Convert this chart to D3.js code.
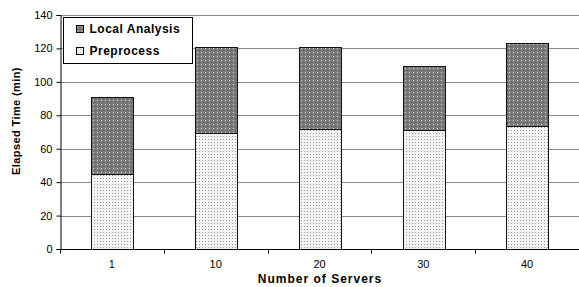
<!DOCTYPE html>
<html>
<head>
<meta charset="utf-8">
<script src="https://cdn.jsdelivr.net/npm/d3@7"></script>
<style>
  body { margin: 0; background: #fff; }
  text { font-family: "Liberation Sans", Arial, sans-serif; }
</style>
</head>
<body>
<div class="chart"></div>
<script>
const servers = ["1", "10", "20", "30", "40"];
const preprocess = [45, 69.5, 72, 71, 73.5];
const localAnalysis = [46, 51.5, 49, 38.5, 49.5];
const yTicks = [0, 20, 40, 60, 80, 100, 120, 140];
const legendLabels = ["Local Analysis", "Preprocess"];

const W = 579, H = 287;
const margin = {top: 15, right: 0, bottom: 38, left: 60};
const width = W - margin.left - margin.right;
const height = H - margin.top - margin.bottom;

const svg = d3.select(".chart").append("svg")
    .attr("width", W).attr("height", H);

// patterns
const defs = svg.append("defs");
const pDark = defs.append("pattern").attr("id", "pat-dark")
    .attr("patternUnits", "userSpaceOnUse").attr("width", 4).attr("height", 4);
pDark.append("rect").attr("width", 4).attr("height", 4).attr("fill", "#7a7a7a");
pDark.append("rect").attr("x", 1).attr("y", 1).attr("width", 1).attr("height", 1).attr("fill", "#d8d8d8");
pDark.append("rect").attr("x", 3).attr("y", 3).attr("width", 1).attr("height", 1).attr("fill", "#5a5a5a");

const pLight = defs.append("pattern").attr("id", "pat-light")
    .attr("patternUnits", "userSpaceOnUse").attr("width", 3).attr("height", 3);
pLight.append("rect").attr("width", 3).attr("height", 3).attr("fill", "#f4f4f4");
pLight.append("rect").attr("x", 1).attr("y", 1).attr("width", 1).attr("height", 1).attr("fill", "#9a9a9a");

const g = svg.append("g").attr("transform", `translate(${margin.left},${margin.top})`);

const x = d3.scaleBand().domain(servers).range([0, width]).paddingInner(0.6).paddingOuter(0.3);
const y = d3.scaleLinear().domain([0, 140]).range([height, 0]);

// grid
g.append("g")
  .selectAll("line").data(yTicks.filter(d => d > 0)).join("line")
    .attr("x1", 0).attr("x2", width)
    .attr("y1", d => Math.round(y(d)) + 0.5).attr("y2", d => Math.round(y(d)) + 0.5)
    .attr("stroke", "#8c8c8c").attr("stroke-width", 1);

// stacked bars
const stackData = servers.map((s, i) => ({server: s, pre: preprocess[i], local: localAnalysis[i]}));
const series = d3.stack().keys(["pre", "local"])(stackData);
const fills = {pre: "url(#pat-light)", local: "url(#pat-dark)"};

series.forEach(s => {
  g.append("g").selectAll("rect").data(s).join("rect")
    .attr("x", d => Math.round(x(d.data.server)) + 0.5)
    .attr("y", d => Math.round(y(d[1])) + 0.5)
    .attr("width", Math.round(x.bandwidth()))
    .attr("height", d => Math.round(y(d[0])) - Math.round(y(d[1])))
    .attr("fill", fills[s.key])
    .attr("stroke", "#111").attr("stroke-width", 1);
});

// y axis
const yAxis = g.append("g")
    .attr("transform", "translate(0.5,0)")
    .call(d3.axisLeft(y).tickValues(yTicks).tickSize(4).tickPadding(4));
yAxis.select(".domain").attr("stroke", "#000");
yAxis.selectAll("text").attr("font-size", 11).attr("fill", "#000");

// x axis
const xAxis = g.append("g").attr("transform", `translate(0,${height + 0.5})`);
xAxis.append("line").attr("x1", 0).attr("x2", width).attr("stroke", "#000");
const step = x.step();
const tickPos = d3.range(servers.length + 1).map(i => i * step);
xAxis.selectAll(".xt").data(tickPos).join("line")
    .attr("x1", d => Math.round(d) + 0.5).attr("x2", d => Math.round(d) + 0.5)
    .attr("y1", 0).attr("y2", 4).attr("stroke", "#000");
xAxis.selectAll("text").data(servers).join("text")
    .attr("x", d => x(d) + x.bandwidth() / 2)
    .attr("y", 18)
    .attr("text-anchor", "middle")
    .attr("font-size", 11)
    .text(d => d);

// axis titles
svg.append("text")
    .attr("x", 320).attr("y", 283)
    .attr("text-anchor", "middle")
    .attr("font-size", 12).attr("font-weight", "bold")
    .attr("letter-spacing", 1)
    .text("Number of Servers");

svg.append("text")
    .attr("transform", `translate(20,121) rotate(-90)`)
    .attr("text-anchor", "middle")
    .attr("font-size", 11).attr("font-weight", "bold")
    .attr("letter-spacing", 0.4)
    .text("Elapsed Time (min)");

// legend
const lg = svg.append("g").attr("transform", "translate(63.5,17.5)");
lg.append("rect").attr("width", 129).attr("height", 46)
    .attr("fill", "#fff").attr("stroke", "#000");
const legendFills = ["url(#pat-dark)", "url(#pat-light)"];
legendLabels.forEach((lbl, i) => {
  const row = lg.append("g").attr("transform", `translate(13,${8 + i * 22})`);
  row.append("rect").attr("width", 7).attr("height", 7)
      .attr("fill", legendFills[i]).attr("stroke", "#000");
  row.append("text").attr("x", 13).attr("y", 7.5)
      .attr("font-size", 12).attr("font-weight", "bold")
      .attr("letter-spacing", 0.5)
      .text(lbl);
});
</script>
</body>
</html>
